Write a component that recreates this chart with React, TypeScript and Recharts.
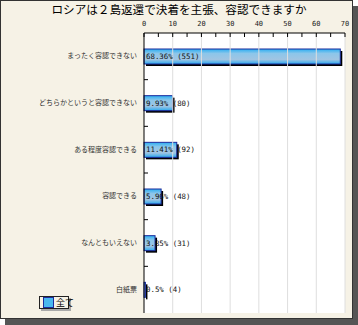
import { BarChart, Bar, XAxis, YAxis, CartesianGrid, ReferenceLine, LabelList } from 'recharts'

const categories = ['まったく容認できない', 'どちらかというと容認できない', 'ある程度容認できる', '容認できる', 'なんともいえない', '白紙票']
const percents = [68.36, 9.93, 11.41, 5.96, 3.85, 0.5]
const counts = [551, 80, 92, 48, 31, 4]
const minorTicks = [0, 5, 10, 15, 20, 25, 30, 35, 40, 45, 50, 55, 60, 65, 70]
const gridTicks = [10, 20, 30, 40, 50, 60, 70]
const legendLabel = '全て'

const data = categories.map((name, i) => ({ name, value: percents[i], count: counts[i] }))

const W = 358
const H = 325
const MARGIN = { top: 13, right: 13, bottom: 12, left: 0 }
const BAND = (H - MARGIN.top - 20 - MARGIN.bottom) / categories.length

const TopTick = (props: any) => {
    const { x, y, payload } = props
    const major = payload.value % 10 === 0
    return (
        <g>
            <line x1={x} y1={y} x2={x} y2={y + 4} stroke="#000" />
            {major && (
                <text x={x} y={y - 9} textAnchor="middle" dominantBaseline="middle" fontSize={7} fontFamily="DejaVu Sans Mono" fill="#222">
                    {payload.value}
                </text>
            )}
        </g>
    )
}

const LeftTick = (props: any) => {
    const { x, y, payload, index } = props
    return (
        <g>
            <text x={x} y={y} textAnchor="end" dominantBaseline="middle" fontSize={7} fontFamily="Noto Sans CJK JP" fill="#333">
                {payload.value}
            </text>
            {index < categories.length - 1 && (
                <line x1={x + 7} y1={y + BAND / 2} x2={x + 11} y2={y + BAND / 2} stroke="#000" />
            )}
        </g>
    )
}

const BarShape = (props: any) => {
    const { x, y, width, height } = props
    return (
        <g>
            <rect x={x + 2} y={y + 2} width={width} height={height} fill="#000" />
            <rect x={x} y={y} width={width} height={height} fill="url(#barFill)" stroke="#1c2c9c" strokeWidth={1} />
        </g>
    )
}

const BarLabel = (props: any) => {
    const { x, y, height, index } = props
    return (
        <text x={x + 2} y={y + height / 2 + 0.5} dominantBaseline="middle" fontSize={7.4} fontFamily="DejaVu Sans Mono" fill="#111">
            {`${percents[index]}% (${counts[index]})`}
        </text>
    )
}

export default function App() {
    return (
        <div style={{ position: 'relative', width: W, height: H }}>
            <style>{'body{margin:0}'}</style>
            <div style={{ position: 'absolute', left: 0, top: 0, width: 353, height: 319, boxSizing: 'border-box', border: '1px solid #333', background: '#f6f2e6', boxShadow: '5px 6px 0 #555' }} />
            <div style={{ position: 'absolute', left: 0, top: 1, width: 358, textAlign: 'center', fontSize: 11.6, fontFamily: 'Noto Sans CJK JP', color: '#000', lineHeight: '16px' }}>
                ロシアは２島返還で決着を主張、容認できますか
            </div>
            <div style={{ position: 'absolute', left: 0, top: 0 }}>
                <BarChart width={W} height={H} data={data} layout="vertical" margin={MARGIN} barSize={15}>
                    <defs>
                        <linearGradient id="barFill" x1="0" y1="0" x2="0" y2="1">
                            <stop offset="0%" stopColor="#2aaef2" />
                            <stop offset="30%" stopColor="#8cc6ea" />
                            <stop offset="70%" stopColor="#a0c4e2" />
                            <stop offset="100%" stopColor="#2aaaf0" />
                        </linearGradient>
                    </defs>
                    <CartesianGrid fill="#fff" horizontal={false} vertical={false} />
                    {gridTicks.map(t => (
                        <ReferenceLine key={t} x={t} stroke="#dedede" />
                    ))}
                    <XAxis type="number" orientation="top" domain={[0, 70]} ticks={minorTicks} interval={0} height={20} tickLine={false} tickSize={0} tickMargin={0} axisLine={{ stroke: '#000' }} tick={<TopTick />} />
                    <YAxis type="category" dataKey="name" width={144} tickLine={false} tickSize={0} tickMargin={7} axisLine={{ stroke: '#000' }} tick={<LeftTick />} interval={0} />
                    <Bar dataKey="value" isAnimationActive={false} shape={<BarShape />}>
                        <LabelList dataKey="value" content={<BarLabel />} />
                    </Bar>
                </BarChart>
            </div>
            <div style={{ position: 'absolute', left: 39, top: 296, width: 30, height: 13, boxSizing: 'border-box', border: '1px solid #222', boxShadow: '2px 2px 0 #aaa', display: 'flex', alignItems: 'center' }}>
                <span style={{ width: 9, height: 9, marginLeft: 3, background: '#49b8ef', border: '1px solid #1c2c9c', flexShrink: 0 }} />
                <span style={{ fontSize: 9, marginLeft: 2, fontFamily: 'Noto Sans CJK JP', whiteSpace: 'nowrap', lineHeight: '11px' }}>{legendLabel}</span>
            </div>
        </div>
    )
}
